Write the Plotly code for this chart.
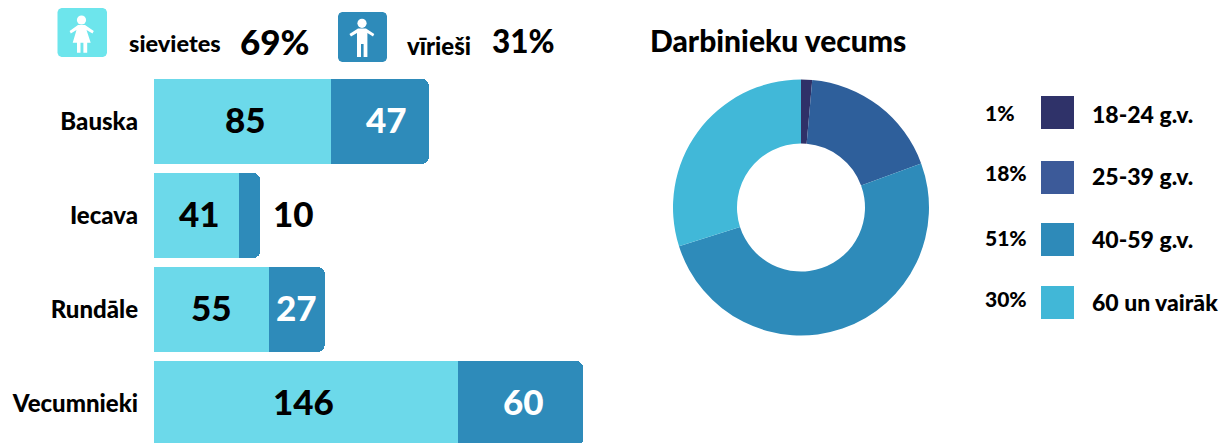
import plotly.graph_objects as go

W, H = 1230, 443

towns = ["Bauska", "Iecava", "Rundāle", "Vecumnieki"]
women = [85, 41, 55, 146]
men = [47, 10, 27, 60]
share_women = "69%"
share_men = "31%"

age_groups = ["18-24 g.v.", "25-39 g.v.", "40-59 g.v.", "60 un vairāk"]
age_labels = ["1%", "18%", "51%", "30%"]
age_shares = [1.4, 18, 50.7, 29.9]
slice_colors = ["#2f3168", "#2e5f9b", "#2e8bba", "#41b8d8"]
swatch_colors = ["#2f3269", "#3c5a99", "#2e8ab9", "#41b7d7"]

WOMEN_C, MEN_C = "#6cd9ea", "#2e8bba"
FONT = "Lato"


def px(x):
    return x / W


def py(y):
    return 1 - y / H


def path(points):
    return "M " + " L ".join(f"{px(x):.5f},{py(y):.5f}" for x, y in points) + " Z"


def rrect(x0, y0, x1, y1, r):
    c = [
        (x0 + r, y0), (x1 - r, y0), (x1 - r * .3, y0 + r * .3), (x1, y0 + r),
        (x1, y1 - r), (x1 - r * .3, y1 - r * .3), (x1 - r, y1),
        (x0 + r, y1), (x0 + r * .3, y1 - r * .3), (x0, y1 - r),
        (x0, y0 + r), (x0 + r * .3, y0 + r * .3),
    ]
    return path(c)


def shape(p, color):
    return dict(type="path", xref="paper", yref="paper", path=p,
                fillcolor=color, line=dict(width=0))


def head(cx, cy, r):
    return dict(type="circle", xref="paper", yref="paper",
                x0=px(cx - r), x1=px(cx + r), y0=py(cy + r), y1=py(cy - r),
                fillcolor="white", line=dict(width=0))


def label(text, x, y, size, anchor="center", weight=900, color="black"):
    return dict(text=text, x=px(x), y=py(y), xref="paper", yref="paper",
                showarrow=False, xanchor=anchor, yanchor="middle",
                font=dict(family=FONT, size=size, color=color, weight=weight))


def bar_value(value, x, town, color, xshift, yshift=3):
    return dict(text=str(value), x=x, y=town, xref="x", yref="y", showarrow=False,
                xanchor="center", yanchor="middle", xshift=xshift, yshift=yshift,
                font=dict(family=FONT, size=35, color=color, weight=900))


fig = go.Figure()
fig.add_bar(y=towns, x=women, orientation="h", marker=dict(color=WOMEN_C, line_width=0),
            hoverinfo="x+y")
fig.add_bar(y=towns, x=men, orientation="h", marker=dict(color=MEN_C, line_width=0),
            hoverinfo="x+y")
fig.add_pie(labels=age_groups, values=age_shares, hole=0.5, sort=False,
            direction="clockwise", rotation=0, textinfo="none", showlegend=False,
            marker=dict(colors=slice_colors, line_width=0),
            domain=dict(x=[px(673), px(929)], y=[py(336), py(79)]))

shapes = [
    shape(rrect(57.5, 8, 107, 57, 4), "#6de5ec"),
    head(81.5, 20, 4.6),
    shape(path([(78, 25), (85, 25), (93.8, 31), (92.5, 33.5), (86.5, 30), (90.7, 42.7),
                (87.2, 42.7), (87.2, 52.7), (83.4, 52.7), (83.4, 42.7), (80.5, 42.7),
                (80.5, 52.7), (77, 52.7), (77, 42.7), (72.7, 42.7), (76.5, 30),
                (70.8, 33.5), (69.6, 31)]), "white"),
    shape(rrect(338, 12, 387, 62, 4), MEN_C),
    head(362, 23.3, 4.6),
    shape(path([(358, 28.5), (366, 28.5), (374.3, 34), (373, 36.5), (367.4, 33),
                (367.4, 57), (363.6, 57), (363.6, 44), (361, 44), (361, 57), (357, 57),
                (357, 33), (351, 36.5), (349.4, 34)]), "white"),
]
for color, y0 in zip(swatch_colors, [96, 161, 223, 286]):
    shapes.append(dict(type="rect", xref="paper", yref="paper",
                       x0=px(1041), x1=px(1074), y0=py(y0 + 33), y1=py(y0),
                       fillcolor=color, line=dict(width=0)))

annotations = [
    label("sievietes", 175, 43, 23.5),
    label(share_women, 275, 41, 35),
    label("vīrieši", 439, 45, 24),
    label(share_men, 523, 41, 31.5),
    label("Darbinieku vecums", 778, 40, 30),
]
women_shifts = [3, 3, 0, -3]
men_shifts = [6, 0, 0, 3]
for town, w, m, ws, ms in zip(towns, women, men, women_shifts, men_shifts):
    annotations.append(bar_value(w, w / 2, town, "black", ws))
    if m > 10:
        annotations.append(bar_value(m, w + m / 2, town, "white", ms))
    else:
        annotations.append(bar_value(m, w + m + 16, town, "black", 0))
for text, y in zip(age_labels, [112, 172, 237, 298]):
    annotations.append(label(text, 983, y, 21, anchor="left"))
for text, y in zip(age_groups, [114, 176, 239, 302]):
    annotations.append(label(text, 1090, y, 23, anchor="left"))

fig.update_layout(
    width=W, height=H, autosize=False,
    margin=dict(l=0, r=0, t=0, b=0),
    paper_bgcolor="white", plot_bgcolor="white",
    barmode="stack", bargap=9 / 94, barcornerradius=7, showlegend=False,
    shapes=shapes, annotations=annotations,
    xaxis=dict(domain=[px(154), px(640)], range=[0, 486 / 2.083], visible=False, fixedrange=True),
    yaxis=dict(domain=[0, py(74.5)], range=[-0.5 + 368.5 / 94, -0.5], showgrid=False, zeroline=False,
               showline=False, ticks="", ticklabelstandoff=15, fixedrange=True,
               tickfont=dict(family=FONT, size=24, color="black", weight=900)),
)
fig.write_html("out.html", config=dict(displayModeBar=False),
               post_script="document.body.style.margin='0';document.body.style.overflow='hidden';")
